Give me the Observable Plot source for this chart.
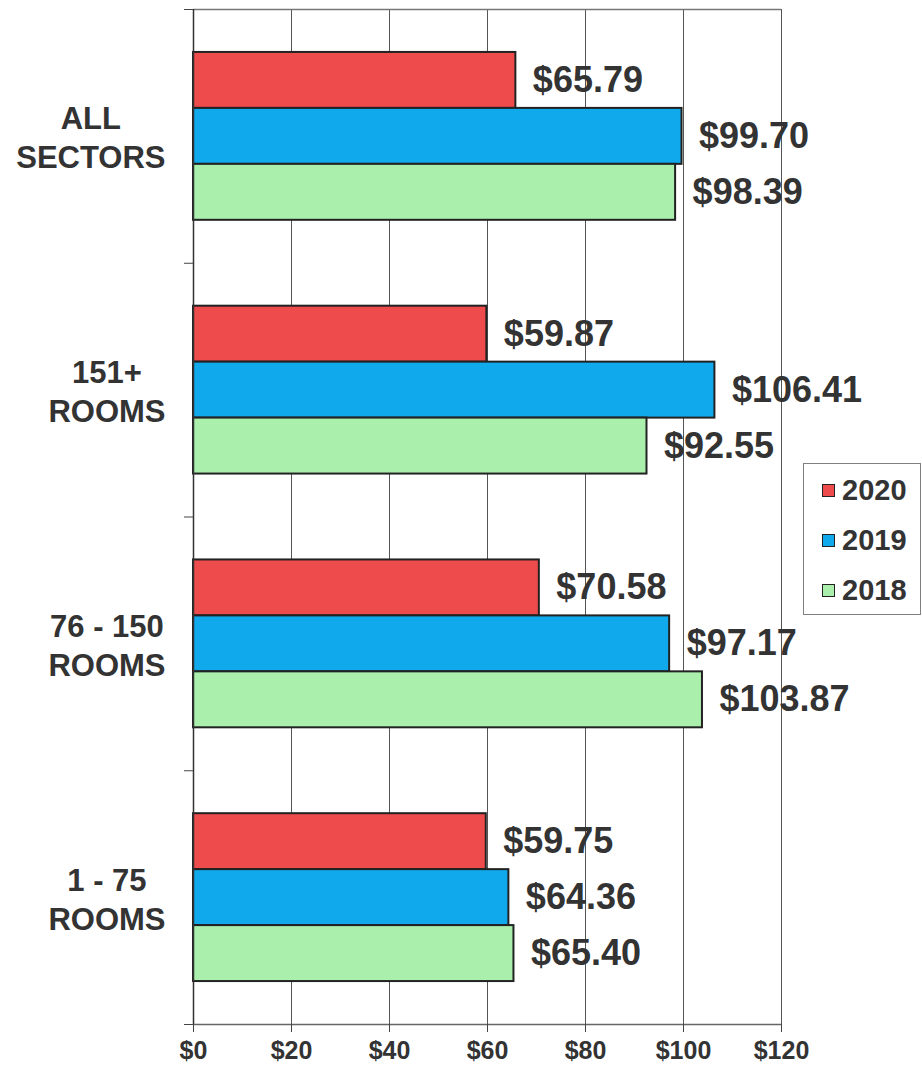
<!DOCTYPE html>
<html>
<head>
<meta charset="utf-8">
<script src="https://cdn.jsdelivr.net/npm/d3@7"></script>
<script src="https://cdn.jsdelivr.net/npm/@observablehq/plot@0.6"></script>
<style>
  html, body { margin: 0; padding: 0; background: #fff; }
  #wrap { position: relative; width: 922px; height: 1070px; }
  #wrap svg { font-family: "Liberation Sans", Arial, sans-serif; }
  #wrap svg text { font-weight: bold; }
  #wrap svg g[aria-label="x-axis tick label"] { font-size: 25px; }
  .legend {
    position: absolute; left: 803px; top: 463px; width: 118px; height: 152px;
    box-sizing: border-box; border: 1.5px solid #808080; background: #fff;
    font-family: "Liberation Sans", Arial, sans-serif; font-weight: bold; color: #333;
    padding-top: 1px;
  }
  .legend .row { height: 50px; display: flex; align-items: center; padding-left: 18px; font-size: 29px; }
  .legend .sw { width: 11px; height: 11px; border: 1.5px solid #222; margin-right: 7px; }
</style>
</head>
<body>
<div id="wrap"></div>
<script>
// ---- data ----
const categories = ["ALL SECTORS", "151+ ROOMS", "76 - 150 ROOMS", "1 - 75 ROOMS"];
const categoryLabels = ["ALL\nSECTORS", "151+\nROOMS", "76 - 150\nROOMS", "1 - 75\nROOMS"];
const years = ["2020", "2019", "2018"];
const values2020 = [65.79, 59.87, 70.58, 59.75];
const values2019 = [99.70, 106.41, 97.17, 64.36];
const values2018 = [98.39, 92.55, 103.87, 65.40];
const xTicks = [0, 20, 40, 60, 80, 100, 120];
const colors = ["#EE4B4D", "#10AAEC", "#AAF0AC"];

// ---- layout (band geometry within each category slot) ----
const barW = 0.2205;                 // fraction of a category slot per bar
const pad = (1 - 3 * barW) / 2;      // outer padding within slot

const seriesByYear = [values2020, values2019, values2018];
const rows = [];
categories.forEach((c, ci) => {
  years.forEach((yr, yi) => {
    const y1 = ci + pad + yi * barW;
    rows.push({category: c, year: yr, value: seriesByYear[yi][ci], y1, y2: y1 + barW, ym: y1 + barW / 2});
  });
});

// measure label widths to centre lines the way the original does
const ctx = document.createElement("canvas").getContext("2d");
const catFont = 31;
ctx.font = `bold ${catFont}px "Liberation Sans", Arial, sans-serif`;
const labelMarks = categoryLabels.map((lab, i) => {
  const maxw = d3.max(lab.split("\n"), s => ctx.measureText(s).width);
  return Plot.text([lab], {
    frameAnchor: "left", y: () => i + 0.5, text: d => d,
    textAnchor: "middle", dx: -(28 + maxw / 2),
    fontSize: catFont, fill: "#333", lineHeight: 1.26
  });
});

const chart = Plot.plot({
  width: 922,
  height: 1070,
  marginLeft: 193,
  marginRight: 141,
  marginTop: 9,
  marginBottom: 46,
  x: {domain: [0, 120], label: null},
  y: {domain: [0, 4], reverse: true, label: null},
  color: {domain: years, range: colors},
  marks: [
    Plot.gridX({ticks: xTicks, stroke: "#555", strokeOpacity: 1, strokeWidth: 1}),
    Plot.ruleY([0], {stroke: "#777", strokeWidth: 1.5}),
    Plot.rect(rows, {x1: () => 0, x2: "value", y1: "y1", y2: "y2", fill: "year", stroke: "#222", strokeWidth: 2}),
    Plot.ruleY([4], {stroke: "#666", strokeWidth: 1.5}),
    Plot.ruleX([0], {stroke: "#333", strokeWidth: 1.5}),
    Plot.axisY({ticks: [0, 1, 2, 3, 4], tickFormat: () => "", tickSize: 9, stroke: "#444", label: null}),
    Plot.axisX({ticks: xTicks, tickFormat: d => "$" + d, tickSize: 8, tickPadding: 9, fontSize: 25, fill: "#333", stroke: "#444", label: null}),
    Plot.text(rows, {x: "value", y: "ym", text: d => "$" + d.value.toFixed(2), textAnchor: "start", dx: 17, fontSize: 36, fill: "#333"}),
    ...labelMarks
  ]
});

const wrap = document.getElementById("wrap");
wrap.appendChild(chart);

const legend = document.createElement("div");
legend.className = "legend";
years.forEach((yr, i) => {
  const row = document.createElement("div");
  row.className = "row";
  row.innerHTML = `<span class="sw" style="background:${colors[i]}"></span><span>${yr}</span>`;
  legend.appendChild(row);
});
wrap.appendChild(legend);
</script>
</body>
</html>
